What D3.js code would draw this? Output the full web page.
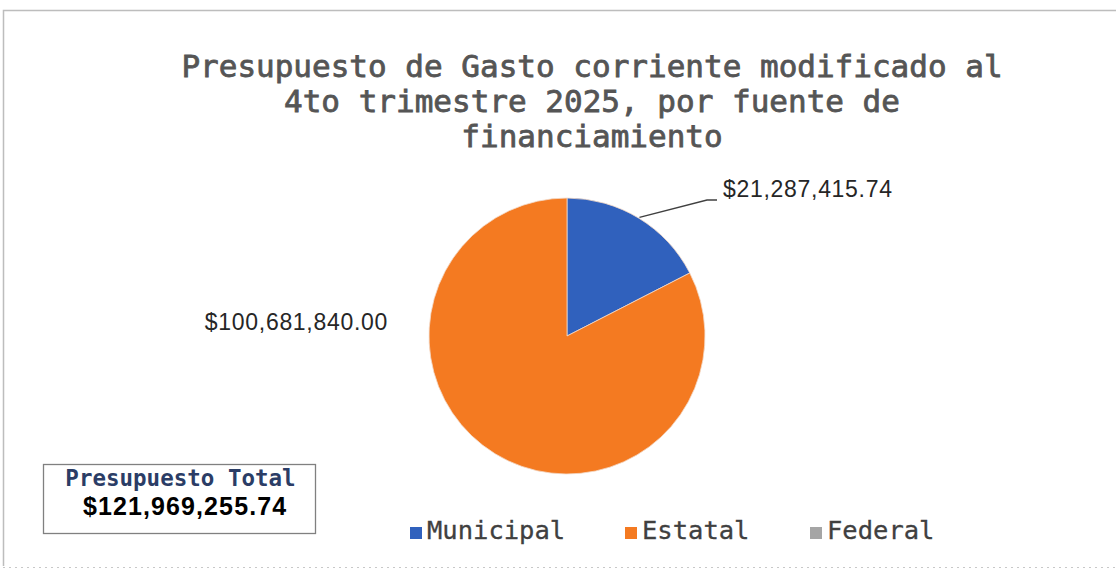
<!DOCTYPE html>
<html>
<head>
<meta charset="utf-8">
<script src="https://cdn.jsdelivr.net/npm/d3@7"></script>
<style>
  body { margin:0; background:#fff; }
  svg { display:block; }
</style>
</head>
<body>
<svg id="chart"></svg>
<script>
// data
var sources = ["Municipal","Estatal","Federal"];
var amounts = [21287415.74, 100681840.00, 0];
var colours = ["#3061bd","#f47a21","#a5a5a5"];
var titleLines = ["Presupuesto de Gasto corriente modificado al",
                  "4to trimestre 2025, por fuente de",
                  "financiamiento"];
var totalLabel = "Presupuesto Total";

var screen = {width:1116,height:584};

var fmt = function(v)
{
    return "$" + d3.format(",.2f")(v);
}

var svg = d3.select("#chart")
    .attr("width",screen.width)
    .attr("height",screen.height);

svg.append("rect")
    .attr("width",screen.width)
    .attr("height",screen.height)
    .attr("fill","#fff");

// chart frame
svg.append("path")
    .attr("d","M3.5,566 L3.5,10.5 L1116,10.5")
    .attr("fill","none")
    .attr("stroke","#bdbdbd")
    .attr("stroke-width",1.5);
svg.append("line")
    .attr("x1",3).attr("x2",1116)
    .attr("y1",567.5).attr("y2",567.5)
    .attr("stroke","#c8c8c8")
    .attr("stroke-dasharray","2,4");

// title
var title = svg.append("g");
title.selectAll("text")
    .data(titleLines)
    .enter()
    .append("text")
    .text(function(d){ return d; })
    .attr("x",592)
    .attr("y",function(d,i){ return 77+i*35; })
    .attr("text-anchor","middle")
    .attr("font-family","'DejaVu Sans Mono', monospace")
    .attr("font-size",31)
    .attr("fill","#555")
    .attr("stroke","#555")
    .attr("stroke-width",0.8);

// pie
var center = {x:567,y:336};
var radius = 138;

var data = sources.map(function(s,i){
    return {name:s,value:amounts[i],colour:colours[i]};
});

var pie = d3.pie()
    .sort(null)
    .value(function(d){ return d.value; });
var arc = d3.arc().innerRadius(0).outerRadius(radius);

var arcs = pie(data);

var plot = svg.append("g")
    .attr("transform","translate("+center.x+","+center.y+")");

plot.selectAll("path")
    .data(arcs.filter(function(a){ return a.value>0; }))
    .enter()
    .append("path")
    .attr("d",arc)
    .attr("fill",function(a){ return a.data.colour; })
    .attr("stroke","#f3d9c8")
    .attr("stroke-width",0.8);

// data labels
var labelFont = "'Liberation Sans', Arial, sans-serif";

var muni = arcs[0];
var muniMid = (muni.startAngle+muni.endAngle)/2;
var edge = [Math.sin(muniMid)*(radius+1), -Math.cos(muniMid)*(radius+1)];
plot.append("polyline")
    .attr("points",[edge,[140,-136],[150,-136]].map(function(p){return p.join(",");}).join(" "))
    .attr("fill","none")
    .attr("stroke","#404040")
    .attr("stroke-width",1.4);
plot.append("text")
    .text(fmt(muni.value))
    .attr("x",156)
    .attr("y",-139)
    .attr("font-family",labelFont)
    .attr("font-size",23)
    .attr("letter-spacing",0.7)
    .attr("fill","#262626");

var est = arcs[1];
plot.append("text")
    .text(fmt(est.value))
    .attr("x",-179)
    .attr("y",-6)
    .attr("text-anchor","end")
    .attr("font-family",labelFont)
    .attr("font-size",23)
    .attr("letter-spacing",0.7)
    .attr("fill","#262626");

// legend
var legendX = [410,625,810];
var legend = svg.append("g")
    .attr("transform","translate(0,539)");
var entries = legend.selectAll("g")
    .data(data)
    .enter()
    .append("g")
    .attr("transform",function(d,i){ return "translate("+legendX[i]+",0)"; });
entries.append("rect")
    .attr("x",0)
    .attr("y",-12)
    .attr("width",12)
    .attr("height",12)
    .attr("fill",function(d){ return d.colour; });
entries.append("text")
    .text(function(d){ return d.name; })
    .attr("x",17)
    .attr("y",0)
    .attr("font-family","'DejaVu Sans Mono', monospace")
    .attr("font-size",25.5)
    .attr("fill","#404040")
    .attr("stroke","#404040")
    .attr("stroke-width",0.3);

// total box
var total = d3.sum(amounts);
var box = svg.append("g");
box.append("rect")
    .attr("x",43.5).attr("y",464.5)
    .attr("width",272).attr("height",69)
    .attr("fill","#fff")
    .attr("stroke","#808080")
    .attr("stroke-width",1.3);
box.append("text")
    .text(totalLabel)
    .attr("x",180.5)
    .attr("y",486)
    .attr("text-anchor","middle")
    .attr("font-family","'DejaVu Sans Mono', monospace")
    .attr("font-weight","bold")
    .attr("font-size",22.5)
    .attr("fill","#2b3d66");
box.append("text")
    .text(fmt(total))
    .attr("x",83)
    .attr("y",515)
    .attr("font-family",labelFont)
    .attr("font-weight","bold")
    .attr("font-size",25)
    .attr("letter-spacing",1.1)
    .attr("fill","#000");
</script>
</body>
</html>
